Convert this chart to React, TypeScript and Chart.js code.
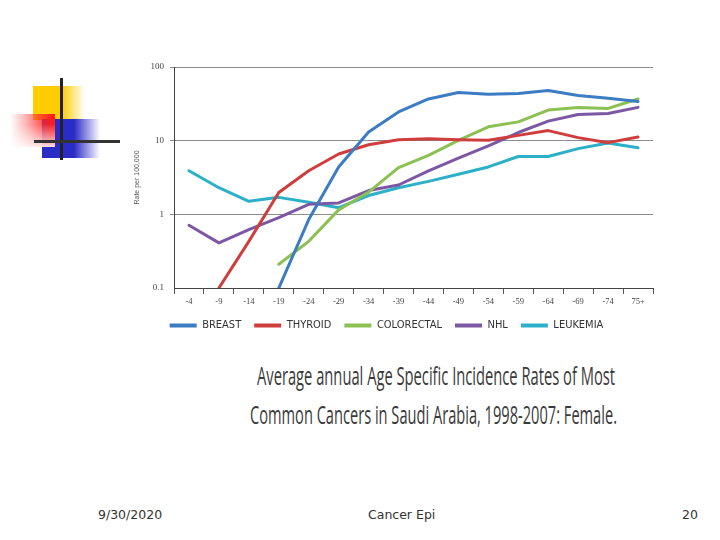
import { useEffect, useLayoutEffect, useRef } from 'react';
import { Chart, registerables } from 'chart.js';

Chart.register(...registerables);

const ageGroups = ['-4', '-9', '-14', '-19', '-24', '-29', '-34', '-39', '-44', '-49', '-54', '-59', '-64', '-69', '-74', '75+'];

const breast = [null, null, null, 0.1, 0.85, 4.4, 13.1, 24.5, 36.8, 45, 42.7, 43.6, 47.9, 40.9, 37.6, 33.9];
const thyroid = [null, 0.1, 0.43, 1.98, 3.9, 6.6, 8.8, 10.3, 10.6, 10.3, 10.1, 11.8, 13.7, 11, 9.4, 11.2];
const colorectal = [null, null, null, 0.21, 0.43, 1.15, 2.0, 4.3, 6.3, 10.1, 15.4, 18, 26, 28.3, 27.4, 36.8];
const nhl = [0.71, 0.41, 0.62, 0.9, 1.37, 1.43, 2.1, 2.5, 3.9, 5.8, 8.5, 12.9, 18.4, 22.7, 23.4, 28.3];
const leukemia = [3.9, 2.3, 1.5, 1.7, 1.46, 1.23, 1.8, 2.3, 2.8, 3.5, 4.4, 6.1, 6.1, 7.8, 9.3, 8.0];

const seriesNames = ['BREAST', 'THYROID', 'COLORECTAL', 'NHL', 'LEUKEMIA'];
const seriesColors = ['#3b7cc2', '#cf3d3d', '#8dc052', '#7c57a3', '#2bb0c8'];
const yTicks = [0.1, 1, 10, 100];

const titleLines = [
    'Average annual Age Specific Incidence Rates of Most',
    'Common Cancers in Saudi Arabia, 1998-2007: Female.',
];

const narrow = '"DejaVu Sans Condensed", "Liberation Sans", sans-serif';

const CancerChart = () => {
    const chartRef = useRef<HTMLCanvasElement | null>(null);

    useEffect(() => {
        if (!chartRef.current) return;
        const values = [breast, thyroid, colorectal, nhl, leukemia];

        const chart = new Chart(chartRef.current, {
            type: 'line',
            data: {
                labels: ageGroups,
                datasets: seriesNames.map((name, i) => ({
                    label: name,
                    data: values[i],
                    borderColor: seriesColors[i],
                    backgroundColor: seriesColors[i],
                    borderWidth: 3,
                    borderCapStyle: 'round',
                    borderJoinStyle: 'round',
                    pointRadius: 0,
                    tension: 0,
                    spanGaps: false,
                })),
            },
            options: {
                animation: false,
                responsive: false,
                maintainAspectRatio: false,
                layout: { padding: { top: 12, right: 17, left: 0, bottom: 0 } },
                plugins: {
                    tooltip: { enabled: false },
                    legend: {
                        position: 'bottom',
                        labels: {
                            boxWidth: 27,
                            boxHeight: 4,
                            padding: 13,
                            color: '#333',
                            font: { size: 11, family: narrow },
                            generateLabels: (c: any) =>
                                Chart.defaults.plugins.legend.labels.generateLabels(c).map((l: any) => ({ ...l, lineWidth: 0 })),
                        },
                    },
                },
                scales: {
                    x: {
                        type: 'category',
                        offset: true,
                        grid: { offset: true, drawOnChartArea: false, tickLength: 6, color: '#555' },
                        border: { color: '#444' },
                        ticks: {
                            autoSkip: false,
                            maxRotation: 0,
                            padding: 3,
                            color: '#444',
                            font: { size: 8.5, family: '"Liberation Serif", serif' },
                        },
                        afterFit: (s: any) => { s.height = 19; },
                    },
                    y: {
                        type: 'logarithmic',
                        min: 0.1,
                        max: 100,
                        afterBuildTicks: (s: any) => { s.ticks = yTicks.map(v => ({ value: v })); },
                        grid: {
                            color: (ctx: any) => (ctx.tick && ctx.tick.value === 0.1 ? 'rgba(0,0,0,0)' : '#8c8c8c'),
                            tickLength: 4,
                        },
                        border: { color: '#444' },
                        ticks: {
                            padding: 6,
                            color: '#444',
                            font: { size: 9, family: '"Liberation Serif", serif' },
                            callback: (v: any) => String(v),
                        },
                        title: {
                            display: true,
                            text: 'Rate per 100,000',
                            color: '#555',
                            font: { size: 7, family: '"Liberation Sans", sans-serif' },
                            padding: { top: 13, bottom: 0 },
                        },
                        afterFit: (s: any) => { s.width = 54; },
                    },
                },
            },
        });

        return () => {
            chart.destroy();
        };
    }, []);

    return (
        <canvas
            ref={chartRef}
            width={550}
            height={286}
            style={{ position: 'absolute', left: 120, top: 55, width: 550, height: 286 }}
        />
    );
};

// squeeze a line of text to a given width, the slide uses a condensed face
const FitLine = ({ text, left, top, width }: { text: string; left: number; top: number; width: number }) => {
    const ref = useRef<HTMLSpanElement | null>(null);
    useLayoutEffect(() => {
        const el = ref.current;
        if (!el) return;
        el.style.transform = 'none';
        const w = el.getBoundingClientRect().width;
        if (w > 0) el.style.transform = `scaleX(${width / w})`;
    }, [text, width]);
    return (
        <span
            ref={ref}
            style={{
                position: 'absolute', left, top, whiteSpace: 'nowrap', transformOrigin: 'left top',
                fontFamily: '"Open Sans", sans-serif', fontSize: 25, lineHeight: '30px', color: '#3a3a3a',
            }}
        >
            {text}
        </span>
    );
};

const Logo = () => (
    <>
        <div style={{ position: 'absolute', left: 33, top: 86, width: 52, height: 34, background: 'linear-gradient(to right, #ffcc00 55%, rgba(255,204,0,0))' }} />
        <div style={{ position: 'absolute', left: 42, top: 119, width: 58, height: 39, background: 'linear-gradient(to right, #2b2bc8 55%, rgba(43,43,200,0))' }} />
        <div style={{ position: 'absolute', left: 10, top: 114, width: 45, height: 33, background: 'linear-gradient(to left, #ff1a1a 5%, rgba(255,90,90,0.45) 65%, rgba(255,255,255,0))' }} />
        <div style={{ position: 'absolute', left: 10, top: 114, width: 45, height: 33, background: 'linear-gradient(to bottom, rgba(255,255,255,0) 30%, rgba(255,255,255,0.85))' }} />
        <div style={{ position: 'absolute', left: 60, top: 78, width: 3, height: 82, background: '#222' }} />
        <div style={{ position: 'absolute', left: 34, top: 140, width: 86, height: 3, background: '#333' }} />
    </>
);

const footer = { position: 'absolute' as const, top: 507, fontFamily: '"DejaVu Sans", sans-serif', fontSize: 12.5, color: '#333' };

const App = () => {
    return (
        <div style={{ position: 'absolute', left: 0, top: 0, width: 720, height: 540, background: '#fff', overflow: 'hidden' }}>
            <Logo />
            <CancerChart />
            <FitLine text={titleLines[0]} left={257} top={360} width={358} />
            <FitLine text={titleLines[1]} left={250} top={399} width={367} />
            <div style={{ ...footer, left: 98 }}>9/30/2020</div>
            <div style={{ ...footer, left: 368 }}>Cancer Epi</div>
            <div style={{ ...footer, left: 682 }}>20</div>
        </div>
    );
};

export default App;
